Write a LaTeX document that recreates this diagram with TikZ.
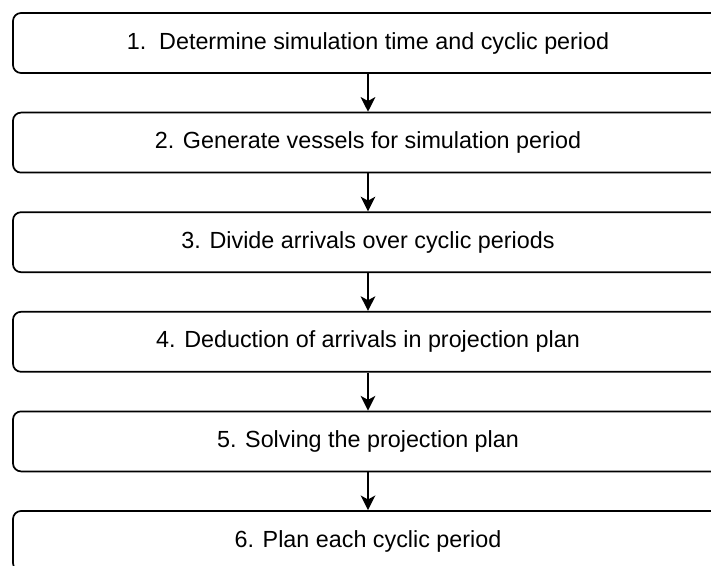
\documentclass[tikz,border=0pt]{standalone}
\usepackage{fontspec}
\setmainfont{Liberation Sans}
\usetikzlibrary{arrows.meta, positioning}

\begin{document}
\begin{tikzpicture}[x=0.75pt, y=-0.75pt, >={Stealth[length=11pt, width=11pt, inset=3pt]},
      font=\fontsize{17.5pt}{21pt}\selectfont,
      b/.style={draw, line width=1.3pt, rounded corners=6pt, minimum width=532.5pt, minimum height=45pt, inner sep=0pt}]
    \useasboundingbox (0,0) rectangle (711,565);
    \clip (0,0) rectangle (711,565);
    \node[b] (s1) at (368, 43) {1.\ \ Determine simulation time and cyclic period};
    \node[b] (s2) at (368, 142.6) {2. Generate vessels for simulation period};
    \node[b] (s3) at (368, 242.2) {3. Divide arrivals over cyclic periods};
    \node[b] (s4) at (368, 341.8) {4. Deduction of arrivals in projection plan};
    \node[b] (s5) at (368, 441.4) {5. Solving the projection plan};
    \node[b] (s6) at (368, 541) {6. Plan each cyclic period};
    \draw[->, line width=1.3pt] (s1) -- (s2);
    \draw[->, line width=1.3pt] (s2) -- (s3);
    \draw[->, line width=1.3pt] (s3) -- (s4);
    \draw[->, line width=1.3pt] (s4) -- (s5);
    \draw[->, line width=1.3pt] (s5) -- (s6);
  \end{tikzpicture}
\end{document}
